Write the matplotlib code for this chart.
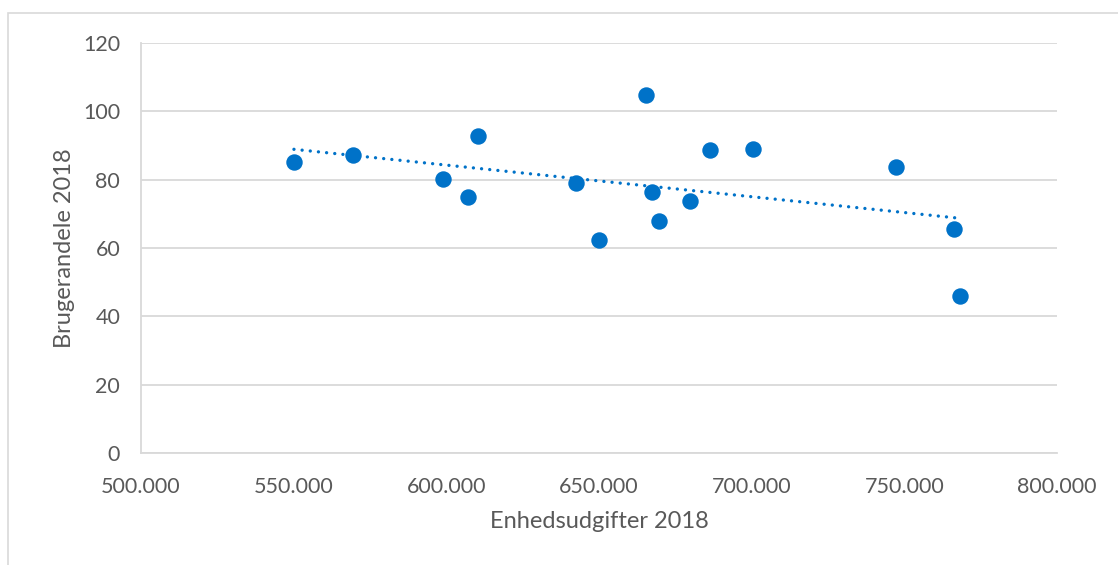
import numpy as np
import matplotlib.pyplot as plt
from matplotlib.patches import Rectangle
from matplotlib.ticker import FuncFormatter

# Enhedsudgifter 2018 (kr.) og brugerandele 2018
udgifter = [550100, 569600, 598800, 607100, 610300, 642500, 650100, 665300,
            667300, 669800, 679800, 686400, 700500, 747400, 766300, 768400]
brugerandele = [85.3, 87.3, 80.2, 74.8, 92.9, 79.1, 62.4, 104.9,
                76.3, 67.8, 73.7, 88.8, 88.9, 83.7, 65.5, 46.0]

x_ticks = [500000, 550000, 600000, 650000, 700000, 750000, 800000]
y_ticks = [0, 20, 40, 60, 80, 100, 120]

blue = '#0072C8'
text_col = '#595959'
grid_col = '#D9D9D9'

plt.rcParams['font.family'] = ['Lato', 'DejaVu Sans']

fig = plt.figure(figsize=(11.18, 5.65), dpi=100)
ax = fig.add_axes([0.1261, 0.1982, 0.8193, 0.7257])

x = np.array(udgifter, dtype=float)
y = np.array(brugerandele, dtype=float)
ax.scatter(x, y, s=140, color=blue, zorder=3, linewidths=0)

# lineær tendenslinje
k, m = np.polyfit(x, y, 1)
xs = np.array([x.min(), x.max()])
ax.plot(xs, k * xs + m, color=blue, lw=2.4, linestyle=(0, (0.01, 2.45)),
        dash_capstyle='round', zorder=2)

ax.set_xlim(500000, 800000)
ax.set_ylim(0, 120)
ax.set_xticks(x_ticks)
ax.set_yticks(y_ticks)
ax.xaxis.set_major_formatter(FuncFormatter(lambda v, p: f"{int(v):,}".replace(',', '.')))

ax.grid(axis='y', color=grid_col, lw=1.3)
ax.set_axisbelow(True)
for s in ['top', 'right']:
    ax.spines[s].set_visible(False)
for s in ['left', 'bottom']:
    ax.spines[s].set_color(grid_col)
    ax.spines[s].set_linewidth(1.3)

ax.tick_params(length=0, labelsize=15.5, colors=text_col)
ax.tick_params(axis='x', pad=17)
ax.tick_params(axis='y', pad=15)

ax.set_xlabel('Enhedsudgifter 2018', fontsize=17, color=text_col, labelpad=10)
ax.set_ylabel('Brugerandele 2018', fontsize=17, color=text_col, labelpad=6)

# ramme om diagramområdet
fig.patches.append(Rectangle((8 / 1118, -0.1), 1.2, 1 - 13 / 565 + 0.1,
                             transform=fig.transFigure, fill=False,
                             edgecolor='#D9D9D9', lw=1.2))

fig.savefig('out.png', dpi=100)
